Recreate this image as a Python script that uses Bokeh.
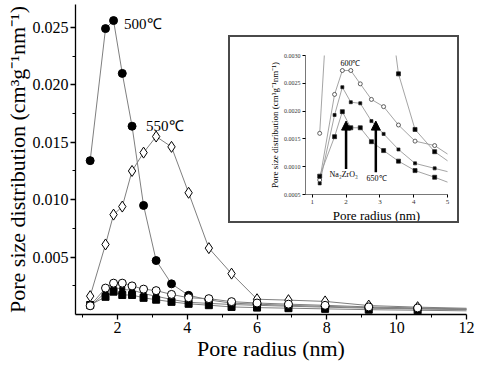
from bokeh.plotting import figure
from bokeh.layouts import column
from bokeh.models import (Range1d, FixedTicker, Label, Arrow, NormalHead,
                          ColumnDataSource, PrintfTickFormatter)
from bokeh.embed import file_html
from bokeh.resources import INLINE

# ---------------- data ----------------
radius = [1.22, 1.66, 1.89, 2.14, 2.42, 2.75, 3.11, 3.55, 4.04, 4.62,
          5.27, 6.0, 6.9, 7.95, 9.2, 10.6, 12.6]
psd_500 = [0.0134, 0.0249, 0.0256, 0.0210, 0.0164, 0.0095, 0.0047, 0.00267,
           0.00167, 0.00127, 0.00099, 0.00090, 0.00080, 0.00071, 0.00060,
           0.00052, 0.00042]
psd_550 = [0.0016, 0.0061, 0.0087, 0.0094, 0.0125, 0.0141, 0.0155, 0.0146,
           0.0106, 0.00578, 0.00356, 0.00133, 0.00125, 0.00114, 0.00078,
           0.00064, 0.00050]
psd_600 = [0.00076, 0.0023, 0.00273, 0.00273, 0.00249, 0.00221, 0.00208,
           0.00175, 0.00146, 0.00138, 0.00112, 0.00100, 0.00090, 0.00080,
           0.00066, 0.00057, 0.00045]
psd_650 = [0.00070, 0.00193, 0.00243, 0.00216, 0.00214, 0.00182, 0.00159,
           0.00131, 0.00106, 0.00097, 0.00087, 0.00080, 0.00072, 0.00064,
           0.00055, 0.00048, 0.00040]
psd_na = [0.00083, 0.00154, 0.00199, 0.00170, 0.00170, 0.00145, 0.00129,
          0.00110, 0.00093, 0.00081, 0.00066, 0.00060, 0.00055, 0.00049,
          0.00042, 0.00037, 0.00030]

main_x_ticks = [2, 4, 6, 8, 10, 12]
main_x_minor = [1, 3, 5, 7, 9, 11]
main_y_ticks = [0.005, 0.010, 0.015, 0.020, 0.025]
main_y_minor = [0.0025, 0.0075, 0.0125, 0.0175, 0.0225]
inset_x_ticks = [1, 2, 3, 4, 5]
inset_y_ticks = [0.0005, 0.0010, 0.0015, 0.0020, 0.0025, 0.0030]

main_labels = ["500℃", "550℃"]
main_label_x = [2.19, 2.82]
main_label_y = [0.0253, 0.0164]
inset_labels = ["600℃", "Na₂ZrO₃", "650℃"]
inset_label_x = [2.13, 1.93, 2.9]
inset_label_y = [0.00286, 0.00086, 0.00078]
arrow_x = [2.0, 2.88]
arrow_y_start = [0.00096, 0.00090]
arrow_y_end = [0.00182, 0.00182]

SERIF = "Liberation Serif"
LINE = "#7f7f7f"

src = ColumnDataSource(dict(r=radius, s500=psd_500, s550=psd_550,
                            s600=psd_600, s650=psd_650, sna=psd_na))

# ---------------- main figure ----------------
p = figure(width=480, height=363, output_backend="svg", toolbar_location=None,
           x_range=Range1d(0.8, 12), y_range=Range1d(0, 0.027),
           min_border_left=75, min_border_right=6, min_border_top=4,
           min_border_bottom=0)
p.outline_line_color = None
p.grid.visible = False
p.background_fill_color = "white"
p.border_fill_color = "white"

series = [
    ("s500", "circle", "black", 8),
    ("s550", "diamond", "white", 11),
    ("sna", "square", "black", 7),
    ("s650", "square", "black", 5),
    ("s600", "circle", "white", 8),
]
for col, mk, fill, sz in series:
    p.line("r", col, source=src, line_color=LINE, line_width=1)
for col, mk, fill, sz in series:
    p.scatter("r", col, source=src, marker=mk, size=sz, fill_color=fill,
              line_color="black", line_width=1)

for ax in (p.xaxis[0], p.yaxis[0]):
    ax.axis_line_width = 1.3
    ax.major_tick_line_width = 1.3
    ax.minor_tick_line_width = 1
    ax.major_tick_out = 5
    ax.major_tick_in = 0
    ax.minor_tick_out = 3
    ax.minor_tick_in = 0
    ax.major_label_text_font = SERIF
    ax.major_label_text_font_size = "16px"
    ax.major_label_text_color = "black"
    ax.axis_label_text_font = SERIF
    ax.axis_label_text_font_style = "normal"
    ax.axis_label_text_font_size = "22px"
    ax.axis_label_text_color = "black"
    ax.major_label_standoff = 2
    ax.axis_label_standoff = 0

p.xaxis.ticker = FixedTicker(ticks=main_x_ticks, minor_ticks=main_x_minor)
p.yaxis.ticker = FixedTicker(ticks=main_y_ticks, minor_ticks=main_y_minor)
p.yaxis.formatter = PrintfTickFormatter(format="%.3f")
p.xaxis.axis_label = "Pore radius (nm)"
p.yaxis.axis_label = "Pore size distribution (cm³g⁻¹nm⁻¹)"

for t, x, y in zip(main_labels, main_label_x, main_label_y):
    p.add_layout(Label(x=x, y=y, text=t, text_font=SERIF,
                       text_font_size="15px", text_baseline="middle",
                       text_align="left", text_color="black"))

# ---------------- inset ----------------
ins = figure(width=231, height=188, output_backend="svg", toolbar_location=None,
             x_range=Range1d(0.8, 5), y_range=Range1d(0.0005, 0.0030),
             min_border_left=39, min_border_right=14, min_border_top=18,
             min_border_bottom=27,
             styles={"position": "absolute", "left": "228px", "top": "35px",
                     "border": "2px solid #4a4a4a",
                     "background-color": "white"})
ins.outline_line_color = None
ins.grid.visible = False

inset_series = [
    ("s500", "square", "black", 4),
    ("s550", "circle", "white", 4),
    ("s600", "circle", "white", 4),
    ("s650", "square", "black", 3),
    ("sna", "square", "black", 4),
]
for col, mk, fill, sz in inset_series:
    ins.line("r", col, source=src, line_color="#9a9a9a", line_width=0.9)
for col, mk, fill, sz in inset_series:
    ins.scatter("r", col, source=src, marker=mk, size=sz, fill_color=fill,
                line_color="#222222", line_width=0.7)

for ax in (ins.xaxis[0], ins.yaxis[0]):
    ax.axis_line_width = 0.8
    ax.axis_line_color = "#555555"
    ax.major_tick_out = 3
    ax.major_tick_in = 0
    ax.minor_tick_line_color = None
    ax.major_label_text_font = SERIF
    ax.major_label_text_color = "#333333"
    ax.axis_label_text_font = SERIF
    ax.axis_label_text_font_style = "normal"
    ax.axis_label_text_color = "black"
    ax.major_label_standoff = 2
    ax.axis_label_standoff = 1
ins.xaxis.major_label_text_font_size = "7px"
ins.yaxis.major_label_text_font_size = "6px"
ins.xaxis.axis_label_text_font_size = "13px"
ins.yaxis.axis_label_text_font_size = "9px"
ins.xaxis.ticker = FixedTicker(ticks=inset_x_ticks)
ins.yaxis.ticker = FixedTicker(ticks=inset_y_ticks)
ins.yaxis.formatter = PrintfTickFormatter(format="%.4f")
ins.xaxis.axis_label = "Pore radius (nm)"
ins.yaxis.axis_label = "Pore size distribution (cm³g⁻¹nm⁻¹)"

for t, x, y in zip(inset_labels, inset_label_x, inset_label_y):
    ins.add_layout(Label(x=x, y=y, text=t, text_font=SERIF,
                         text_font_size="8px", text_baseline="middle",
                         text_align="center", text_color="black"))
for x, y0, y1 in zip(arrow_x, arrow_y_start, arrow_y_end):
    ins.add_layout(Arrow(end=NormalHead(size=9, fill_color="black",
                                        line_color="black"),
                         x_start=x, y_start=y0, x_end=x, y_end=y1,
                         line_width=2.5, line_color="black"))

layout = column(p, ins)
open("out.html", "w").write(file_html(layout, INLINE))
